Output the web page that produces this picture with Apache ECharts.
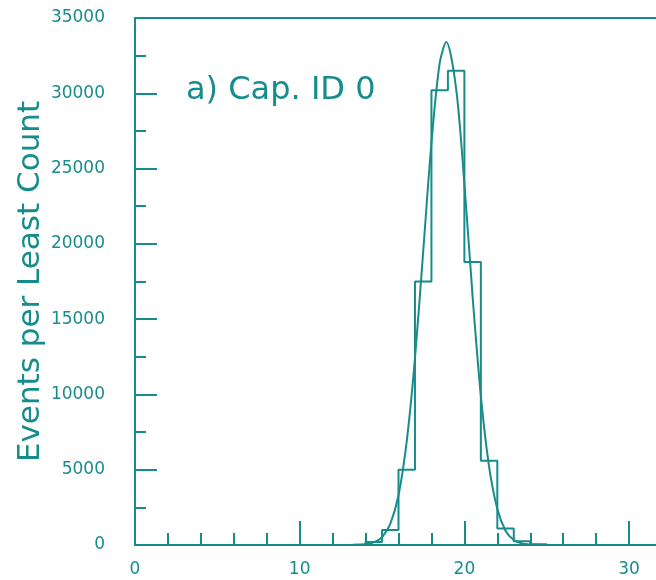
<!DOCTYPE html>
<html>
<head>
<meta charset="utf-8">
<script src="https://cdn.jsdelivr.net/npm/echarts@6/dist/echarts.min.js"></script>
<style>
html,body{margin:0;padding:0;background:#fff;overflow:hidden;width:656px;height:580px;}
#chart{width:662px;height:580px;}
</style>
</head>
<body>
<div id="chart"></div>
<script>
// Histogram bins (left edges) and counts per least count
var binEdges = [13, 14, 15, 16, 17, 18, 19, 20, 21, 22, 23, 24, 25];
var binCounts = [40, 200, 1000, 5000, 17500, 30200, 31500, 18800, 5600, 1100, 250, 50];
// Fitted curve points
var fitX = [13.3, 14, 14.5, 15, 15.5, 16, 16.5, 17, 17.5, 18, 18.5, 18.9, 19.5, 20, 20.5, 21, 21.5, 22, 22.5, 23, 23.5, 24, 24.5, 25];
var fitY = [10, 50, 170, 520, 1400, 3300, 6900, 12400, 19500, 26700, 32000, 33400, 30300, 24000, 16500, 9900, 5200, 2400, 950, 330, 100, 30, 10, 0];
var xTicks = [0, 10, 20, 30];
var yTicks = [0, 5000, 10000, 15000, 20000, 25000, 30000, 35000];
var yTitle = 'Events per Least Count';
var panelLabel = 'a) Cap. ID 0';

var teal = '#178c8c';
var font = 'DejaVu Sans';

var histData = [[binEdges[0], 0]];
for (var i = 0; i < binCounts.length; i++) histData.push([binEdges[i], binCounts[i]]);
histData.push([binEdges[binEdges.length - 1], 0]);

var fitData = fitX.map(function (x, i) { return [x, fitY[i]]; });

var chart = echarts.init(document.getElementById('chart'), null, {renderer: 'canvas'});
chart.setOption({
  animation: false,
  backgroundColor: '#fff',
  grid: {left: 135, right: 0, top: 18, bottom: 35, show: false},
  xAxis: [{
    type: 'value', min: 0, max: 32, interval: 10,
    axisLine: {show: true, onZero: false, lineStyle: {color: teal, width: 2}},
    axisTick: {show: true, inside: true, length: 24, lineStyle: {color: teal, width: 2}},
    minorTick: {show: true, splitNumber: 5, length: 12, lineStyle: {color: teal, width: 2}},
    splitLine: {show: false},
    axisLabel: {color: teal, fontFamily: font, fontSize: 17, margin: 16, showMaxLabel: false,
      formatter: function (v) { return xTicks.indexOf(v) >= 0 ? String(v) : ''; }}
  }, {
    type: 'value', min: 0, max: 32, position: 'top',
    axisLine: {show: true, onZero: false, lineStyle: {color: teal, width: 2}},
    axisTick: {show: false}, axisLabel: {show: false}, splitLine: {show: false}
  }],
  yAxis: {
    type: 'value', min: 0, max: 35000, interval: 5000,
    name: yTitle, nameLocation: 'middle', nameGap: 89, nameMoveOverlap: false,
    nameTextStyle: {color: teal, fontFamily: font, fontSize: 31},
    axisLine: {show: true, lineStyle: {color: teal, width: 2}},
    axisTick: {show: true, inside: true, length: 22, lineStyle: {color: teal, width: 2}},
    minorTick: {show: true, splitNumber: 2, length: 11, lineStyle: {color: teal, width: 2}},
    splitLine: {show: false},
    axisLabel: {color: teal, fontFamily: font, fontSize: 17, margin: 30,
      formatter: function (v) { return yTicks.indexOf(v) >= 0 ? String(v) : ''; }}
  },
  graphic: [{
    type: 'text', left: 186, top: 75,
    style: {text: panelLabel, fill: teal, font: '32px "DejaVu Sans"'}
  }],
  series: [
    {type: 'line', data: histData, step: 'end', showSymbol: false, symbol: 'none',
     lineStyle: {color: teal, width: 2}},
    {type: 'line', data: fitData, smooth: 0.3, showSymbol: false, symbol: 'none',
     lineStyle: {color: teal, width: 2}}
  ]
});
</script>
</body>
</html>
